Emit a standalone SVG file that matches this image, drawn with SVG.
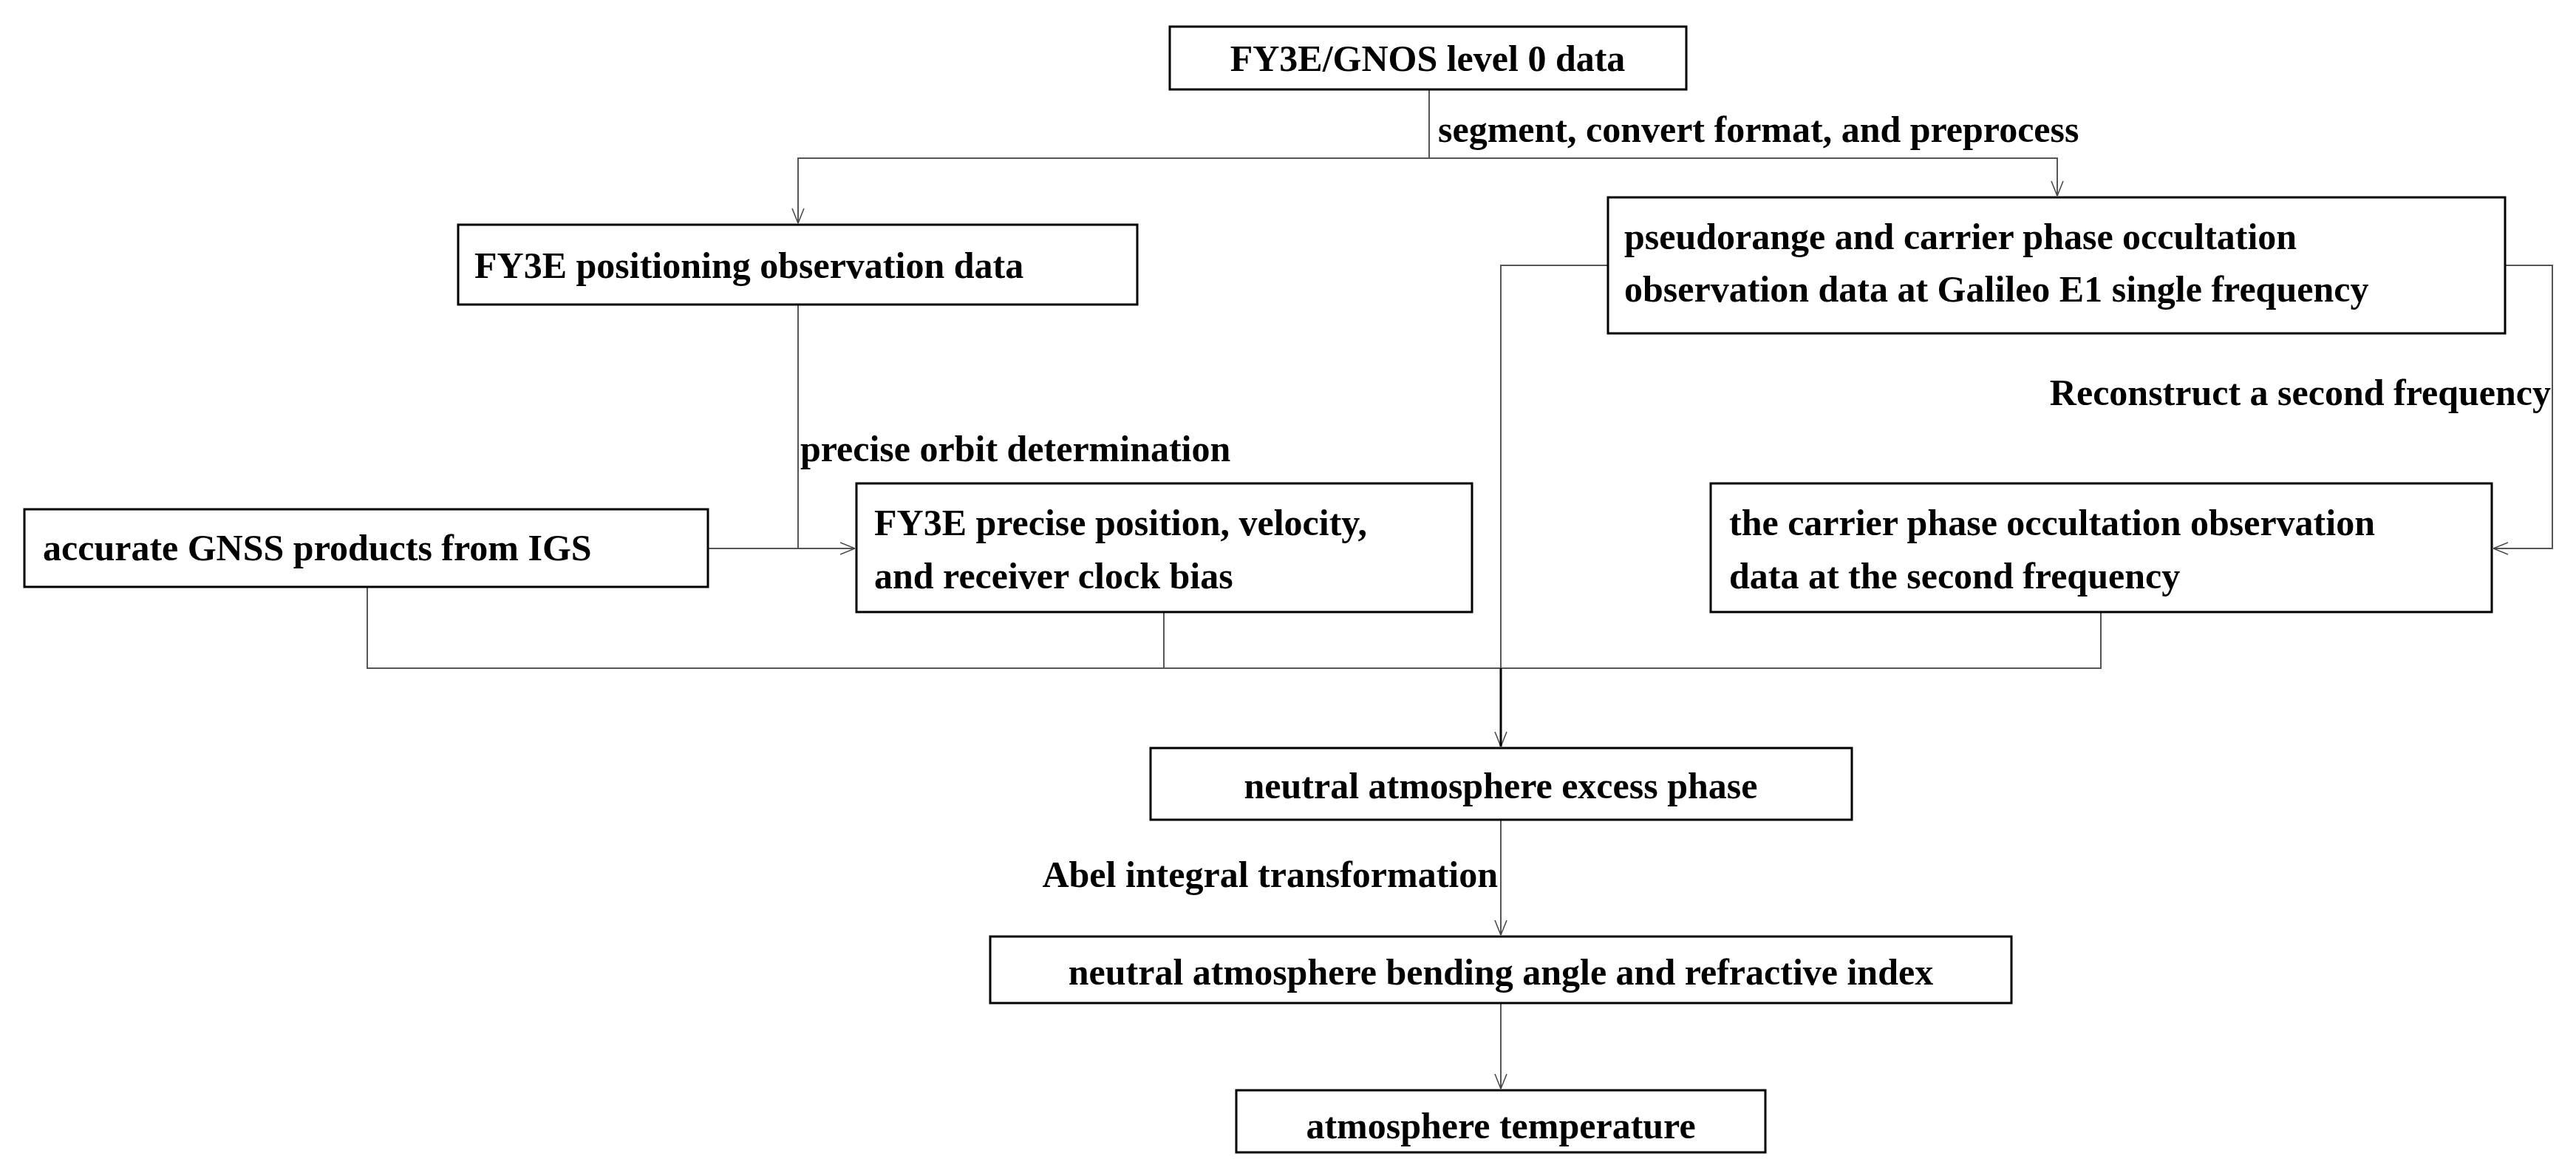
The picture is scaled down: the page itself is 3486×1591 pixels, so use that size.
<svg xmlns="http://www.w3.org/2000/svg" width="3486" height="1591" viewBox="0 0 3486 1591">
<defs>
<marker id="a" viewBox="0 0 20 20" refX="20" refY="10" markerWidth="20" markerHeight="20" markerUnits="userSpaceOnUse" orient="auto"><path d="M0,2 L20,10 L0,18" fill="none" stroke="#444" stroke-width="1.5"/></marker>
</defs>
<style>
rect{fill:#fff;stroke:#000;stroke-width:3}
text{font-family:"Liberation Serif","Times New Roman",serif;font-weight:bold;font-size:50px;fill:#000}
.c{text-anchor:middle}
#connectors path{fill:none;stroke:#555;stroke-width:2}
</style>
<rect width="3486" height="1591" style="fill:#fff;stroke:none"/>
<g id="connectors">
<path d="M1934,121 V214 H1080 V302" marker-end="url(#a)"/>
<path d="M1934,214 H2784 V265" marker-end="url(#a)"/>
<path d="M1080,412 V742 H1157" marker-end="url(#a)"/>
<path d="M958,742 H1080"/>
<path d="M2176,359 H2031 V1010" marker-end="url(#a)"/>
<path d="M3390,359 H3454 V742 H3374" marker-end="url(#a)"/>
<path d="M497,794 V904 H2843 V828"/>
<path d="M1575,828 V904"/>
<path d="M2031,904 V1010" style="stroke:#000;stroke-width:3"/>
<path d="M2031,1109 V1265" marker-end="url(#a)"/>
<path d="M2031,1357 V1473" marker-end="url(#a)"/>
<text x="1946" y="192">segment, convert format, and preprocess</text>
<text x="1083" y="624">precise orbit determination</text>
<text x="3452" y="548" text-anchor="end">Reconstruct a second frequency</text>
<text x="2027" y="1200" text-anchor="end">Abel integral transformation</text>
</g>
<g id="n1"><rect x="1583" y="36" width="699" height="85"/><text x="1932" y="96" class="c">FY3E/GNOS level 0 data</text></g>
<g id="n2"><rect x="620" y="304" width="919" height="108"/><text x="642" y="376">FY3E positioning observation data</text></g>
<g id="n3"><rect x="2176" y="267" width="1214" height="184"/><text x="2198" y="337">pseudorange and carrier phase occultation</text><text x="2198" y="408">observation data at Galileo E1  single frequency</text></g>
<g id="n4"><rect x="33" y="689" width="925" height="105"/><text x="58" y="758">accurate GNSS products from IGS</text></g>
<g id="n5"><rect x="1159" y="654" width="833" height="174"/><text x="1183" y="724">FY3E precise position, velocity,</text><text x="1183" y="796">and receiver clock bias</text></g>
<g id="n6"><rect x="2315" y="654" width="1057" height="174"/><text x="2340" y="724">the carrier phase occultation observation</text><text x="2340" y="796">data at the second frequency</text></g>
<g id="n7"><rect x="1557" y="1012" width="949" height="97"/><text x="2031" y="1080" class="c">neutral atmosphere excess phase</text></g>
<g id="n8"><rect x="1340" y="1267" width="1382" height="90"/><text x="2031" y="1332" class="c">neutral atmosphere bending angle and refractive index</text></g>
<g id="n9"><rect x="1673" y="1475" width="716" height="84"/><text x="2031" y="1540" class="c">atmosphere temperature</text></g>
</svg>
